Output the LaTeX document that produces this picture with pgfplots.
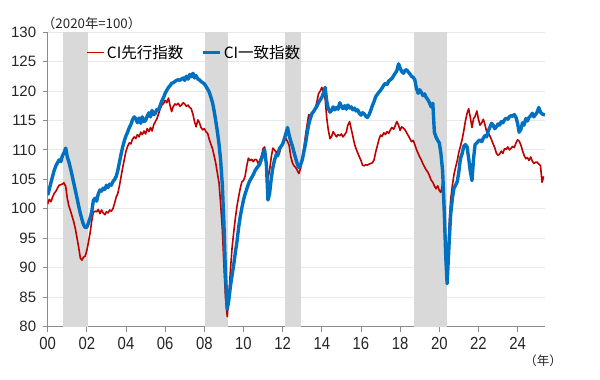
\documentclass[border=0pt]{standalone}
\usepackage{pgfplots}
\pgfplotsset{compat=1.18}
\usepackage{fontspec}
\setmainfont{Liberation Sans}
\newfontfamily\jp{Noto Sans CJK JP}
\newfontfamily\xfont[FakeStretch=0.85]{Liberation Sans}
\definecolor{cired}{HTML}{C00000}
\definecolor{ciblue}{HTML}{0070C0}
\definecolor{band}{HTML}{D9D9D9}
\definecolor{gridc}{HTML}{E8E8E8}
\definecolor{axc}{HTML}{8C8C8C}
\begin{document}
\begin{tikzpicture}[x=1pt,y=1pt]
\begin{axis}[
  scale only axis, width=497.3pt, height=294.7pt,
  xmin=0, xmax=25.4, ymin=80, ymax=130,
  axis x line*=bottom, axis y line*=left,
  axis line style={axc, line width=0.8pt, -},
  tick style={axc, line width=0.8pt},
  tick align=outside, major tick length=5pt,
  xtick={0,2,...,24},
  xticklabels={00,02,04,06,08,10,12,14,16,18,20,22,24},
  ytick={80,85,...,130},
  ymajorgrids, grid style={gridc, line width=0.8pt},
  /pgf/number format/assume math mode=true,
  yticklabel style={font=\fontsize{15}{15}\selectfont, text=black!85, xshift=-3pt},
  xticklabel style={font=\xfont\fontsize{17.5}{17.5}\selectfont, text=black!85, yshift=-2pt},
  legend style={at={(rel axis cs:0.071,0.97)}, anchor=north west, draw=none, fill=none,
    font=\jp\fontsize{15.5}{15.5}\selectfont, legend columns=2,
    /tikz/every even column/.append style={column sep=16pt}},
  legend cell align=left,
]
\coordinate (O) at (rel axis cs:0,0);
% recession bands
\addplot[fill=band, draw=none, forget plot] coordinates {(0.80,80) (2.05,80) (2.05,130) (0.80,130)} -- cycle;
\addplot[fill=band, draw=none, forget plot] coordinates {(8.03,80) (9.22,80) (9.22,130) (8.03,130)} -- cycle;
\addplot[fill=band, draw=none, forget plot] coordinates {(12.12,80) (12.92,80) (12.92,130) (12.12,130)} -- cycle;
\addplot[fill=band, draw=none, forget plot] coordinates {(18.72,80) (20.40,80) (20.40,130) (18.72,130)} -- cycle;

% CI leading
\addplot[cired, line width=1.6pt, line join=round] coordinates {
(0.0,100.8) (0.08,101.6) (0.17,101.2) (0.25,102.0) (0.33,102.6) (0.42,103.0) (0.5,103.5) (0.58,104.0) (0.67,104.1) (0.75,104.2) (0.83,104.4) (0.92,103.8) (1.0,101.8) (1.08,100.5) (1.17,99.6) (1.25,98.7) (1.33,97.8) (1.42,96.5) (1.5,95.0) (1.58,93.5) (1.67,91.6) (1.75,91.3) (1.83,91.8) (1.92,92.0) (2.0,93.0) (2.08,94.3) (2.17,96.0) (2.25,98.0) (2.33,99.4) (2.42,99.6) (2.5,99.5) (2.58,99.9) (2.67,99.2) (2.75,99.8) (2.83,99.3) (2.92,99.0) (3.0,99.5) (3.08,99.3) (3.17,99.8) (3.25,99.6) (3.33,100.0) (3.42,101.0) (3.5,102.0) (3.58,102.6) (3.67,104.0) (3.75,105.5) (3.83,107.0) (3.92,108.5) (4.0,109.8) (4.08,110.6) (4.17,111.2) (4.25,111.0) (4.33,111.8) (4.42,112.2) (4.5,111.9) (4.58,112.6) (4.67,112.2) (4.75,113.0) (4.83,112.6) (4.92,113.2) (5.0,112.7) (5.08,113.6) (5.17,113.1) (5.25,113.8) (5.33,113.2) (5.42,114.3) (5.5,114.8) (5.58,115.3) (5.67,116.2) (5.75,117.0) (5.83,117.6) (5.92,117.9) (6.0,118.4) (6.08,118.0) (6.17,118.8) (6.25,117.5) (6.33,116.5) (6.42,117.4) (6.5,117.8) (6.58,117.6) (6.67,117.9) (6.75,117.4) (6.83,117.6) (6.92,118.0) (7.0,117.8) (7.08,117.4) (7.17,117.6) (7.25,117.2) (7.33,117.0) (7.42,116.0) (7.5,114.8) (7.58,113.9) (7.67,115.1) (7.75,114.6) (7.83,113.8) (7.92,113.4) (8.0,113.6) (8.08,113.1) (8.17,112.8) (8.25,111.8) (8.33,111.0) (8.42,110.2) (8.5,109.0) (8.58,107.8) (8.67,106.0) (8.75,104.4) (8.83,101.0) (8.92,96.5) (9.0,90.5) (9.08,85.0) (9.17,81.7) (9.25,85.0) (9.33,89.5) (9.42,93.5) (9.5,96.0) (9.58,98.3) (9.67,100.5) (9.75,102.0) (9.83,103.4) (9.92,104.6) (10.0,104.8) (10.08,105.5) (10.17,107.3) (10.25,108.6) (10.33,108.2) (10.42,108.4) (10.5,108.0) (10.58,108.4) (10.67,108.3) (10.75,107.7) (10.83,108.2) (10.92,109.0) (11.0,110.2) (11.08,110.5) (11.17,108.0) (11.25,105.2) (11.33,106.5) (11.42,108.8) (11.5,110.3) (11.58,110.0) (11.67,109.6) (11.75,109.8) (11.83,109.4) (11.92,110.5) (12.0,111.0) (12.08,111.5) (12.17,111.9) (12.25,111.4) (12.33,110.8) (12.42,108.8) (12.5,107.8) (12.58,107.3) (12.67,107.0) (12.75,106.5) (12.83,106.0) (12.92,106.9) (13.0,108.3) (13.08,110.3) (13.17,112.5) (13.25,114.3) (13.33,116.0) (13.42,115.7) (13.5,116.0) (13.58,116.5) (13.67,117.0) (13.75,118.2) (13.83,119.5) (13.92,120.0) (14.0,120.6) (14.08,119.8) (14.17,118.7) (14.25,115.5) (14.33,113.4) (14.42,111.9) (14.5,112.3) (14.58,113.1) (14.67,112.6) (14.75,112.2) (14.83,112.6) (14.92,112.4) (15.0,112.7) (15.08,112.2) (15.17,112.6) (15.25,113.0) (15.33,114.2) (15.42,114.8) (15.5,113.6) (15.58,112.4) (15.67,111.0) (15.75,110.2) (15.83,109.5) (15.92,108.8) (16.0,108.2) (16.08,107.4) (16.17,107.3) (16.25,107.5) (16.33,107.4) (16.42,107.6) (16.5,107.7) (16.58,107.8) (16.67,108.3) (16.75,109.6) (16.83,110.6) (16.92,111.8) (17.0,112.5) (17.08,112.3) (17.17,112.9) (17.25,112.6) (17.33,113.1) (17.42,112.8) (17.5,113.4) (17.58,113.8) (17.67,113.5) (17.75,114.1) (17.83,114.8) (17.92,114.2) (18.0,113.3) (18.08,113.9) (18.17,113.7) (18.25,113.4) (18.33,112.9) (18.42,112.4) (18.5,111.9) (18.58,111.4) (18.67,111.6) (18.75,110.9) (18.83,110.1) (18.92,109.4) (19.0,108.8) (19.08,108.3) (19.17,107.6) (19.25,107.1) (19.33,106.6) (19.42,106.2) (19.5,105.6) (19.58,104.9) (19.67,104.5) (19.75,103.9) (19.83,103.4) (19.92,103.9) (20.0,103.1) (20.08,102.8) (20.17,104.2) (20.25,98.0) (20.33,91.0) (20.4,88.3) (20.5,97.0) (20.58,101.5) (20.67,104.0) (20.75,105.8) (20.83,107.0) (20.92,108.2) (21.0,109.6) (21.08,110.6) (21.17,111.8) (21.25,113.2) (21.33,114.8) (21.42,116.2) (21.5,117.0) (21.58,115.6) (21.67,113.8) (21.75,115.3) (21.83,115.7) (21.92,116.6) (22.0,115.2) (22.08,114.2) (22.17,114.6) (22.25,115.2) (22.33,114.3) (22.42,113.1) (22.5,112.9) (22.58,112.4) (22.67,111.7) (22.75,111.0) (22.83,110.4) (22.92,109.4) (23.0,109.1) (23.08,109.3) (23.17,109.8) (23.25,109.4) (23.33,110.2) (23.42,110.1) (23.5,110.5) (23.58,110.0) (23.67,110.3) (23.75,110.6) (23.83,110.4) (23.92,111.2) (24.0,111.7) (24.08,111.5) (24.17,110.8) (24.25,109.9) (24.33,109.1) (24.42,108.5) (24.5,108.7) (24.58,108.2) (24.67,108.8) (24.75,108.1) (24.83,107.7) (24.92,107.9) (25.0,107.9) (25.08,107.6) (25.17,107.3) (25.25,104.5) (25.33,105.5)
};
\addlegendentry{CI先行指数}

% CI coincident
\addplot[ciblue, line width=3.4pt, line join=round] coordinates {
(0.00,102.3) (0.08,103.3) (0.17,104.5) (0.25,105.5) (0.33,106.5) (0.42,107.3) (0.5,107.8) (0.58,108.3) (0.67,108.0) (0.75,109.0) (0.83,109.5) (0.92,110.3) (1.0,108.8) (1.08,108.0) (1.17,106.8) (1.25,105.6) (1.33,104.4) (1.42,103.0) (1.5,101.8) (1.58,100.5) (1.67,99.2) (1.75,98.2) (1.83,97.3) (1.92,96.8) (2.0,96.9) (2.08,97.6) (2.17,98.5) (2.25,99.5) (2.33,101.4) (2.42,101.8) (2.5,101.3) (2.58,102.5) (2.67,103.2) (2.75,103.0) (2.83,103.5) (2.92,103.3) (3.0,104.0) (3.08,103.6) (3.17,104.2) (3.25,104.0) (3.33,104.6) (3.42,105.0) (3.5,105.5) (3.58,106.5) (3.67,108.0) (3.75,109.3) (3.83,110.5) (3.92,111.6) (4.0,112.4) (4.08,113.0) (4.17,113.8) (4.25,114.3) (4.33,115.1) (4.42,115.6) (4.5,115.3) (4.58,114.6) (4.67,115.4) (4.75,114.5) (4.83,115.6) (4.92,114.8) (5.0,115.0) (5.08,115.7) (5.17,116.3) (5.25,115.6) (5.33,116.7) (5.42,116.0) (5.5,116.2) (5.58,116.9) (5.67,116.8) (5.75,117.6) (5.83,118.3) (5.92,118.9) (6.0,119.6) (6.08,120.1) (6.17,120.6) (6.25,120.9) (6.33,121.3) (6.42,121.4) (6.5,121.6) (6.58,121.8) (6.67,121.9) (6.75,121.8) (6.83,122.0) (6.92,122.2) (7.0,121.8) (7.08,122.5) (7.17,122.0) (7.25,122.8) (7.33,122.4) (7.42,123.0) (7.5,122.2) (7.58,122.6) (7.67,122.0) (7.75,121.9) (7.83,121.6) (7.92,121.4) (8.0,121.2) (8.08,120.8) (8.17,120.3) (8.25,119.8) (8.33,119.0) (8.42,118.0) (8.5,116.6) (8.58,115.0) (8.67,113.0) (8.75,111.0) (8.83,108.3) (8.92,104.0) (9.0,97.5) (9.08,89.0) (9.17,83.0) (9.25,84.5) (9.33,86.8) (9.42,88.8) (9.5,90.5) (9.58,92.5) (9.67,94.5) (9.75,96.8) (9.83,98.6) (9.92,100.2) (10.0,101.5) (10.08,102.5) (10.17,103.4) (10.25,104.2) (10.33,104.8) (10.42,105.3) (10.5,105.8) (10.58,106.4) (10.67,106.9) (10.75,107.2) (10.83,107.6) (10.92,108.5) (11.0,109.3) (11.08,110.0) (11.17,107.5) (11.25,101.5) (11.33,102.5) (11.42,105.2) (11.5,107.0) (11.58,108.2) (11.67,109.2) (11.75,109.0) (11.83,110.2) (11.92,110.6) (12.0,111.0) (12.08,111.8) (12.17,112.8) (12.25,113.8) (12.33,112.5) (12.42,111.4) (12.5,110.6) (12.58,109.6) (12.67,108.5) (12.75,107.6) (12.83,107.0) (12.92,107.5) (13.0,108.3) (13.08,109.6) (13.17,111.1) (13.25,112.8) (13.33,114.3) (13.42,115.4) (13.5,116.2) (13.58,116.5) (13.67,117.0) (13.75,117.4) (13.83,118.0) (13.92,118.5) (14.0,118.9) (14.08,119.6) (14.17,120.6) (14.25,118.3) (14.33,117.0) (14.42,116.4) (14.5,116.7) (14.58,117.3) (14.67,116.8) (14.75,117.2) (14.83,116.9) (14.92,118.0) (15.0,117.4) (15.08,117.0) (15.17,117.5) (15.25,116.9) (15.33,117.6) (15.42,117.1) (15.5,117.3) (15.58,116.8) (15.67,117.1) (15.75,116.6) (15.83,116.8) (15.92,116.2) (16.0,115.9) (16.08,116.3) (16.17,116.1) (16.25,115.7) (16.33,115.5) (16.42,116.0) (16.5,116.7) (16.58,117.5) (16.67,118.2) (16.75,119.0) (16.83,119.4) (16.92,119.8) (17.0,120.1) (17.08,120.5) (17.17,121.0) (17.25,121.3) (17.33,121.1) (17.42,121.7) (17.5,121.9) (17.58,122.1) (17.67,122.6) (17.75,123.0) (17.83,123.4) (17.92,124.6) (18.0,123.9) (18.08,123.3) (18.17,123.0) (18.25,123.5) (18.33,123.6) (18.42,123.2) (18.5,122.9) (18.58,122.5) (18.67,122.3) (18.75,121.9) (18.83,120.5) (18.92,119.6) (19.0,120.2) (19.08,119.8) (19.17,119.2) (19.25,119.5) (19.33,118.9) (19.42,118.5) (19.5,118.0) (19.58,117.3) (19.67,117.9) (19.75,113.0) (19.83,112.2) (19.92,111.6) (20.0,111.2) (20.08,109.5) (20.17,106.5) (20.25,100.0) (20.33,92.0) (20.4,87.3) (20.5,94.0) (20.58,99.0) (20.67,101.8) (20.75,103.5) (20.83,104.0) (20.92,104.6) (21.0,106.3) (21.08,108.5) (21.17,109.4) (21.25,110.6) (21.33,110.9) (21.42,110.5) (21.5,108.6) (21.58,106.5) (21.67,104.8) (21.75,108.5) (21.83,110.9) (21.92,111.2) (22.0,111.5) (22.08,111.7) (22.17,111.4) (22.25,112.0) (22.33,112.4) (22.42,112.2) (22.5,113.2) (22.58,113.8) (22.67,114.5) (22.75,114.2) (22.83,113.6) (22.92,113.9) (23.0,114.4) (23.08,114.2) (23.17,114.8) (23.25,114.6) (23.33,115.1) (23.42,115.4) (23.5,115.2) (23.58,115.6) (23.67,115.8) (23.75,115.7) (23.83,116.0) (23.92,115.5) (24.0,114.5) (24.08,113.0) (24.17,113.5) (24.25,114.6) (24.33,114.2) (24.42,115.3) (24.5,114.9) (24.58,115.5) (24.67,115.8) (24.75,116.2) (24.83,115.6) (24.92,116.0) (25.0,116.4) (25.08,117.2) (25.17,116.4) (25.25,116.1) (25.33,116.0) (25.4,115.9)
};
\addlegendentry{CI一致指数}
\end{axis}
\pgfresetboundingbox
\path[use as bounding box] ([shift={(-47.7pt,-53.3pt)}]O) rectangle ([shift={(552.3pt,326.7pt)}]O);
\node[anchor=west, inner sep=0pt, font=\jp\fontsize{13.3}{13.3}\selectfont, text=black!85] at ([shift={(-5.7pt,303.2pt)}]O) {（2020年=100）};
\node[inner sep=0pt, font=\jp\fontsize{12.5}{12.5}\selectfont, text=black!85] at ([shift={(495.3pt,-34.3pt)}]O) {（年）};
\end{tikzpicture}
\end{document}
